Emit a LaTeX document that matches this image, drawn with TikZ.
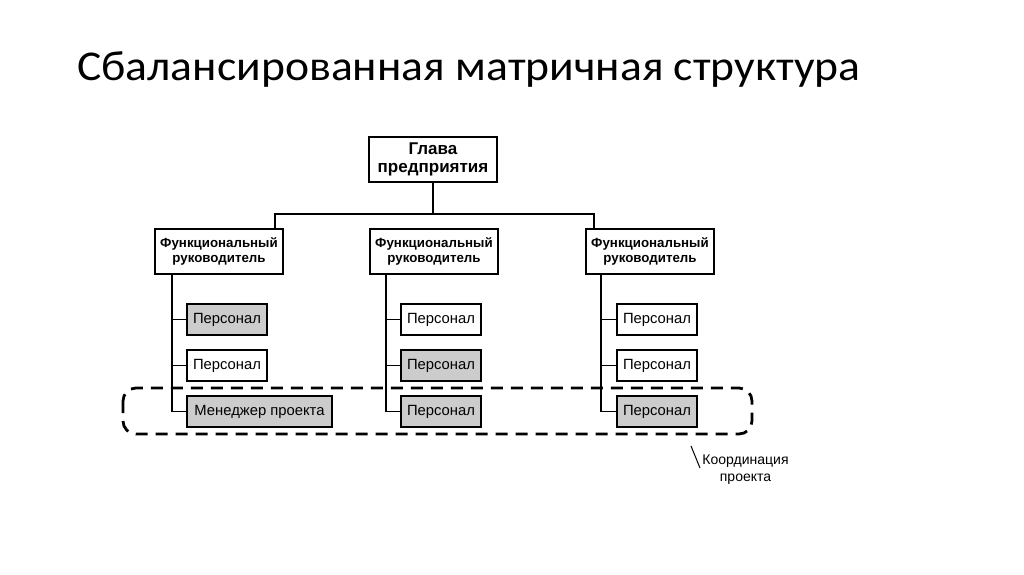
\documentclass[tikz,border=0pt]{standalone}
\usepackage{fontspec}
\setmainfont{Liberation Sans}
\newfontfamily\titlefont{Carlito}
\usepackage{tikz}
\usetikzlibrary{positioning}
\usetikzlibrary{calc}
\tikzstyle{headbox}=[rectangle,draw,line width=1.6pt,fill=white,minimum width=128pt,minimum height=45pt,inner sep=0pt,align=center,font=\bfseries\fontsize{17}{18.5}\selectfont]
\tikzstyle{funcbox}=[rectangle,draw,line width=1.6pt,fill=white,minimum width=128pt,minimum height=45pt,inner sep=0pt,align=center,font=\bfseries\fontsize{13.3}{14.5}\selectfont]
\tikzstyle{staffbox}=[rectangle,draw,line width=1.6pt,minimum width=80pt,minimum height=31pt,inner sep=0pt,font=\fontsize{14.8}{16}\selectfont]
\tikzstyle{link} = [draw,line width=1.6pt]
\tikzstyle{coordbox} = [draw,line width=2.8pt,dash pattern=on 12pt off 8pt,rounded corners=13pt]

\begin{document}
\begin{tikzpicture}[x=1pt,y=-1pt]
    \useasboundingbox (0,0) rectangle (1024,574);
    \node[anchor=base west,font=\titlefont\fontsize{42.4}{48}\selectfont,inner sep=0pt,xscale=1.076,transform shape] (title) at (77,80) {Сбалансированная матричная структура};

    \node[headbox] (head) at (433,159.5) {Глава\\предприятия};
    \foreach \pos/\name in {{(219,251.5)/fl}, {(434,251.5)/fm}, {(650,251.5)/fr}}
        \node[funcbox] (\name) at \pos {Функциональный\\руководитель};

    % staff, white and grey
    \foreach \pos/\name/\label in {{(227,319.5)/pl1/Персонал}, {(441,411.5)/pm3/Персонал}, {(441,365.5)/pm2/Персонал}, {(657,411.5)/pr3/Персонал}}
        \node[staffbox,fill=black!20] (\name) at \pos {\label};
    \foreach \pos/\name/\label in {{(227,365.5)/pl2/Персонал}, {(441,319.5)/pm1/Персонал}, {(657,319.5)/pr1/Персонал}, {(657,365.5)/pr2/Персонал}}
        \node[staffbox,fill=white] (\name) at \pos {\label};
    \node[staffbox,fill=black!20,minimum width=145pt] (pl3) at (259.5,411.5) {Менеджер проекта};

    \coordinate (busl) at (275,214);
    \coordinate (busr) at (594,214);
    \path[link] (busl |- fl.north) -- (busl) -- (busr) -- (busr |- fr.north);
    \path[link] (head.south) -- (head |- busl);

    \foreach \x/\col in {172/l, 386/m, 601/r}
        \coordinate (sp\col) at (\x,0);
    \foreach \col in {l, m, r} {
        \path[link] (sp\col |- f\col.south) -- (sp\col |- p\col3.west);
        \foreach \row in {1,2,3}
            \path[link] (sp\col |- p\col\row.west) -- (p\col\row.west);
    }

    \draw[coordbox] (123,388) rectangle (752,434);
    \node[align=center,font=\fontsize{14}{17}\selectfont,inner sep=0pt] (coordlbl) at (745.5,470) {Координация\\проекта};
    \coordinate (slashtop) at (691,446);
    \coordinate (slashbot) at (700,468);
    \path[draw,line width=1pt] (slashtop) -- (slashbot);
\end{tikzpicture}
\end{document}
